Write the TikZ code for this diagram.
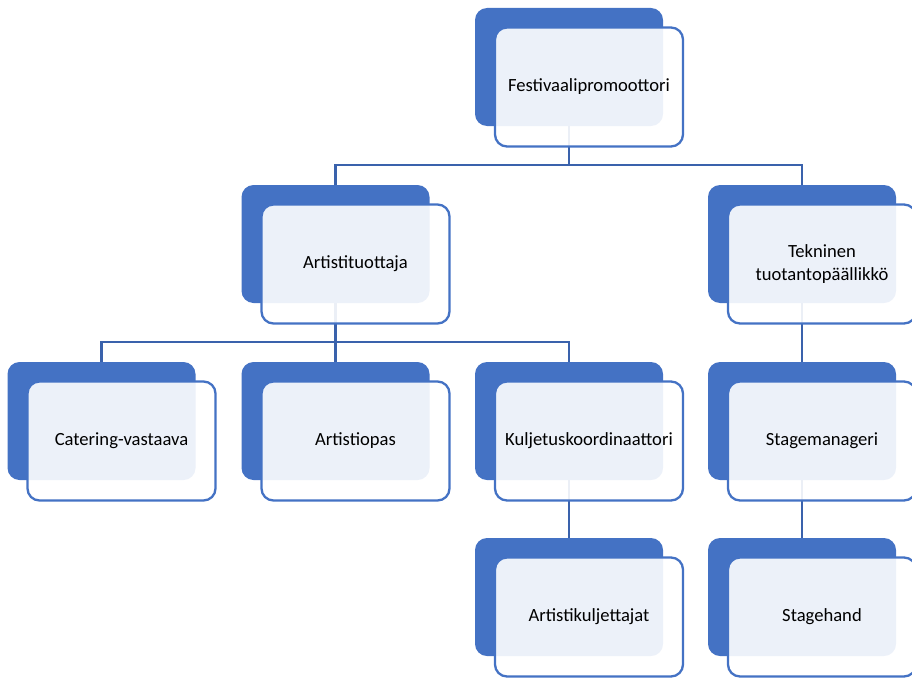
\documentclass[tikz,border=0pt]{standalone}
\usepackage{fontspec}
\setmainfont{Carlito}
\usetikzlibrary{positioning}
\definecolor{orgblue}{HTML}{4472C4}
\definecolor{linkblue}{HTML}{3A62AC}

\tikzset{
  backbox/.style={rectangle, rounded corners=12pt, fill=orgblue,
    minimum width=188pt, minimum height=118pt, inner sep=0pt},
  frontbox/.style={rectangle, rounded corners=12pt, draw=orgblue, line width=2.3pt,
    fill=white, fill opacity=0.9, text opacity=1,
    minimum width=188pt, minimum height=119pt, align=center,
    xshift=20pt, yshift=-20pt,
    font=\fontsize{18.6}{22.6}\selectfont},
  link/.style={linkblue, line width=2.8pt}
}

\begin{document}
\begin{tikzpicture}[x=1pt, y=-1pt]
  \useasboundingbox (0,0) rectangle (912,677);

  % blue boxes at the back
  \node[backbox] (promoB) at (569,67) {};
  \node[backbox] (artB)   at (335.5,244) {};
  \node[backbox] (tekB)   at (802,244) {};
  \node[backbox] (cateB)  at (101.5,421) {};
  \node[backbox] (opasB)  at (335.5,421) {};
  \node[backbox] (kulB)   at (569,421) {};
  \node[backbox] (stageB) at (802,421) {};
  \node[backbox] (drivB)  at (569,597) {};
  \node[backbox] (handB)  at (802,597) {};

  % connectors
  \coordinate (j1) at (569,165);
  \coordinate (j2) at (335.5,342);
  \draw[link] (promoB.south) -- (j1);
  \draw[link] (artB.north) |- (j1) -| (tekB.north);
  \draw[link] (artB.south) -- (j2);
  \draw[link] (cateB.north) |- (j2) -| (kulB.north);
  \draw[link] (j2) -- (opasB.north);
  \draw[link] (tekB.south) -- (stageB.north);
  \draw[link] (kulB.south) -- (drivB.north);
  \draw[link] (stageB.south) -- (handB.north);

  % text boxes in front
  \node[frontbox] (promo) at (promoB) {Festivaalipromoottori};
  \node[frontbox] (art)   at (artB)   {Artistituottaja};
  \node[frontbox] (tek)   at (tekB)   {Tekninen\\tuotantopäällikkö};
  \node[frontbox] (cate)  at (cateB)  {Catering-vastaava};
  \node[frontbox] (opas)  at (opasB)  {Artistiopas};
  \node[frontbox] (kul)   at (kulB)   {Kuljetuskoordinaattori};
  \node[frontbox] (stage) at (stageB) {Stagemanageri};
  \node[frontbox] (driv)  at (drivB)  {Artistikuljettajat};
  \node[frontbox] (hand)  at (handB)  {Stagehand};
\end{tikzpicture}
\end{document}
